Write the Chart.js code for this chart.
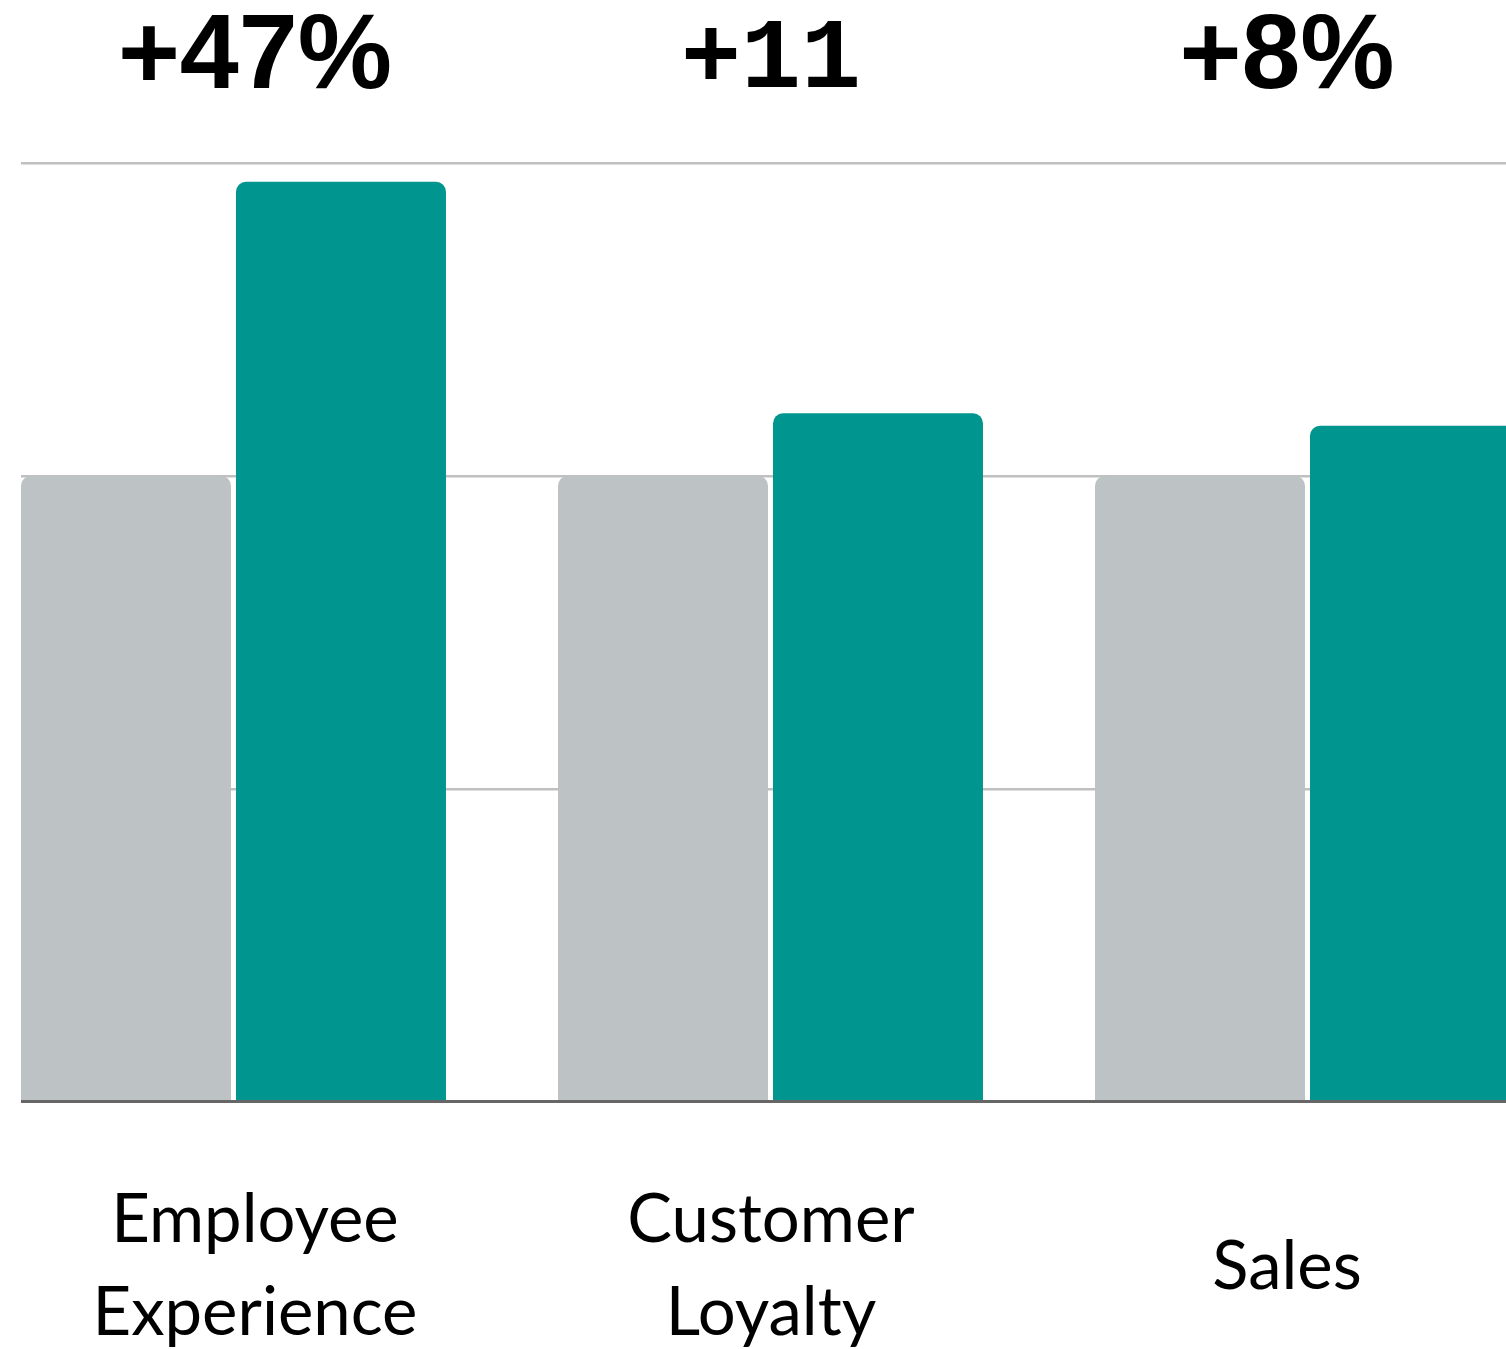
<!DOCTYPE html>
<html lang="en">
<head>
    <meta charset="UTF-8">
    <title>Employee Experience, Customer Loyalty and Sales</title>
    <style>
        * { margin: 0; padding: 0; box-sizing: border-box; }

        body {
            background: #fff;
            overflow: hidden;
        }

        /* visible area, the chart itself runs off the right edge */
        #frame {
            position: relative;
            width: 1506px;
            height: 1349px;
            overflow: hidden;
        }

        #chart-box {
            position: absolute;
            left: -35px;
            top: -45px;
            width: 1611px;
            height: 1571px;
        }

        /* blank margin on the left, grid lines start after it */
        #edge {
            position: absolute;
            left: 0;
            top: 0;
            width: 21px;
            height: 1349px;
            background: #fff;
        }
    </style>
</head>
<body>
    <div id="frame">
        <div id="chart-box">
            <canvas id="impactChart" width="1611" height="1571"></canvas>
        </div>
        <div id="edge"></div>
    </div>

    <script src="https://cdn.jsdelivr.net/npm/chart.js"></script>
    <script>
        const categories = [["Employee", "Experience"], ["Customer", "Loyalty"], "Sales"];
        const changeLabels = ["+47%", "+11", "+8%"];
        const baselineValues = [100, 100, 100];
        const improvedValues = [147, 110, 108];
        const yTicks = [0, 50, 100, 150];

        // label axes are linear so the texts sit where the original put them
        const labelMin = -0.562;
        const labelMax = 2.56;

        const ctx = document.getElementById('impactChart').getContext('2d');
        new Chart(ctx, {
            type: 'bar',
            data: {
                labels: categories.map((c, i) => i),
                datasets: [
                    {
                        label: 'Before',
                        data: baselineValues,
                        backgroundColor: '#bdc2c4',
                        borderRadius: 10,
                        borderSkipped: 'start'
                    },
                    {
                        label: 'After',
                        data: improvedValues,
                        backgroundColor: '#00958f',
                        borderRadius: 10,
                        borderSkipped: 'start'
                    }
                ]
            },
            options: {
                responsive: false,
                animation: false,
                layout: { padding: 0 },
                categoryPercentage: 0.8007,
                barPercentage: 0.9767,
                plugins: {
                    legend: { display: false },
                    tooltip: { enabled: false }
                },
                scales: {
                    x: { display: false },
                    y: {
                        min: yTicks[0],
                        max: yTicks[yTicks.length - 1],
                        ticks: { display: false, stepSize: yTicks[1] - yTicks[0] },
                        grid: { color: '#c0c0c0', lineWidth: 2.5, drawTicks: false },
                        border: { display: false }
                    },
                    top: {
                        type: 'linear',
                        position: 'top',
                        offset: false,
                        min: labelMin,
                        max: labelMax,
                        grid: { display: false, drawTicks: false, offset: false },
                        border: { display: false },
                        ticks: {
                            stepSize: 1,
                            includeBounds: false,
                            autoSkip: false,
                            maxRotation: 0,
                            padding: 51,
                            color: '#000',
                            callback: (v) => changeLabels[v],
                            font: (c) => c.index === 1
                                ? { family: 'Liberation Mono', weight: 'bold', size: 100, lineHeight: 1 }
                                : { family: 'Liberation Sans', weight: 'bold', size: 106, lineHeight: 1 }
                        }
                    },
                    bottom: {
                        type: 'linear',
                        position: 'bottom',
                        offset: false,
                        min: labelMin,
                        max: labelMax,
                        grid: { display: false, drawTicks: false, offset: false },
                        border: { display: true, color: '#666666', width: 3, z: 1 },
                        ticks: {
                            stepSize: 1,
                            includeBounds: false,
                            autoSkip: false,
                            maxRotation: 0,
                            crossAlign: 'center',
                            padding: 119,
                            color: '#000',
                            callback: (v) => categories[v],
                            font: { family: 'Lato', size: 67, lineHeight: 1.39 }
                        }
                    }
                }
            }
        });
    </script>
</body>
</html>
